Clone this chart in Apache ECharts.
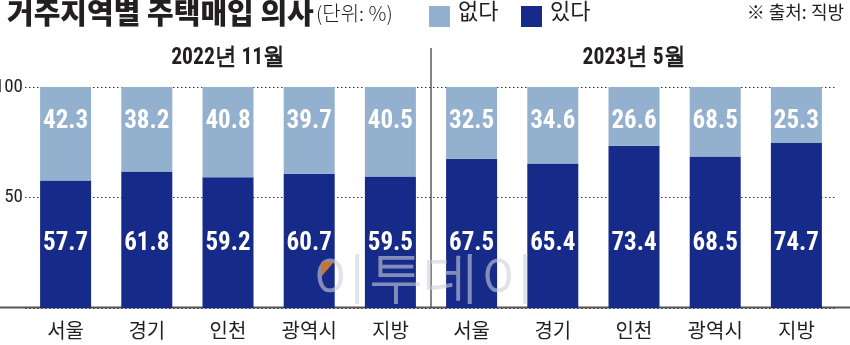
<!DOCTYPE html>
<html><head><meta charset="utf-8">
<script src="https://cdn.jsdelivr.net/npm/echarts@6/dist/echarts.min.js"></script>
<style>html,body{margin:0;padding:0;background:#fff}#c{width:850px;height:345px}</style>
</head><body><div id="c"></div>
<script>
const categories = ['서울','경기','인천','광역시','지방','서울','경기','인천','광역시','지방'];
const yesValues = [57.7, 61.8, 59.2, 60.7, 59.5, 67.5, 65.4, 73.4, 68.5, 74.7];
// segment heights of the light bars as drawn (광역시 2023 segment drawn ~31.5 while labelled 68.5)
const noValues = [42.3, 38.2, 40.8, 39.7, 40.5, 32.5, 34.6, 26.6, 31.5, 25.3];
const noLabels = ['42.3','38.2','40.8','39.7','40.5','32.5','34.6','26.6','68.5','25.3'];
const yTicks = [0, 50, 100];
const groupTitles = ['2022년 11월', '2023년 5월'];

const NUM = '"Liberation Sans Narrow","Roboto Condensed","Liberation Sans",sans-serif';
const KR = '"Noto Sans CJK KR","Noto Sans",sans-serif';
const chart = echarts.init(document.getElementById('c'));
const option = {
  animation: false,
  grid: {left: 25, right: 13, top: 87, bottom: 37, containLabel: false, outerBoundsMode: 'none'},
  xAxis: {
    type: 'category', data: categories,
    axisLine: {show: false}, axisTick: {show: false},
    axisLabel: {color: '#231f20', fontSize: 20, fontFamily: KR, margin: 12}
  },
  yAxis: {
    type: 'value', min: 0, max: 100, interval: 50,
    axisLine: {show: false}, axisTick: {show: false},
    axisLabel: {color: '#231f20', fontSize: 19, fontFamily: NUM, margin: 2,
      formatter: v => (yTicks.indexOf(v) >= 0 && v !== 0) ? String(v) : ''},
    splitLine: {show: true, lineStyle: {color: '#333', type: [1.5, 2.5], width: 1}}
  },
  series: [
    {name: '있다', type: 'bar', stack: 's', data: yesValues, barWidth: 51,
      itemStyle: {color: '#152a89'},
      label: {show: true, position: 'insideBottom', distance: 52, color: '#fff',
        fontSize: 25, fontWeight: 'bold', fontFamily: NUM}},
    {name: '없다', type: 'bar', stack: 's', barWidth: 51,
      data: noValues.map((v, i) => ({value: v, label: {formatter: noLabels[i]}})),
      itemStyle: {color: '#93b0cf'},
      label: {show: true, position: 'insideTop', distance: 22, color: '#fff',
        fontSize: 25, fontWeight: 'bold', fontFamily: NUM}}
  ]
};
chart.setOption(option);

const y0 = chart.convertToPixel({yAxisIndex: 0}, 0);
const xc = categories.map((c, i) => chart.convertToPixel({xAxisIndex: 0}, i));
const sepX = (xc[4] + xc[5]) / 2;
const g1 = (xc[0] + xc[4]) / 2, g2 = (xc[5] + xc[9]) / 2;

chart.setOption({graphic: [
  {type: 'text', left: 7, top: -2, style: {text: '거주지역별 주택매입 의사', font: '900 29px ' + KR, fill: '#231f20'}},
  {type: 'text', left: 316, top: 3, style: {text: '(단위: %)', font: '300 20px ' + KR, fill: '#231f20'}},
  {type: 'rect', shape: {x: 429, y: 6, width: 21, height: 21}, style: {fill: '#93b0cf'}},
  {type: 'text', left: 458, top: 0, style: {text: '없다', font: '400 22px ' + KR, fill: '#231f20'}},
  {type: 'rect', shape: {x: 521, y: 6, width: 21, height: 21}, style: {fill: '#152a89'}},
  {type: 'text', left: 550, top: 0, style: {text: '있다', font: '400 22px ' + KR, fill: '#231f20'}},
  {type: 'text', right: 6, top: 3, style: {text: '※ 출처: 직방', font: '400 18px ' + KR, fill: '#231f20'}},
  {type: 'text', x: g1, y: 58, scaleX: 0.9, style: {text: groupTitles[0], font: 'bold 24px ' + NUM, fill: '#231f20', align: 'center', verticalAlign: 'middle'}},
  {type: 'text', x: g2, y: 58, scaleX: 0.9, style: {text: groupTitles[1], font: 'bold 24px ' + NUM, fill: '#231f20', align: 'center', verticalAlign: 'middle'}},
  {type: 'line', shape: {x1: sepX, y1: 48, x2: sepX, y2: y0}, style: {stroke: '#333', lineWidth: 1.2}},
  {type: 'line', shape: {x1: 0, y1: y0 - 0.5, x2: 850, y2: y0 - 0.5}, style: {stroke: '#555', lineWidth: 2}},
  {type: 'text', x: 424, y: 281, z: 100, style: {text: '이투데이', font: '56px "DejaVu Serif",serif', fill: 'rgba(205,208,220,0.6)', align: 'center', verticalAlign: 'middle'}},
  {type: 'polygon', z: 100, shape: {points: [[321,262],[334,262],[321,277]]}, style: {fill: '#c87533'}}
]});
</script></body></html>
